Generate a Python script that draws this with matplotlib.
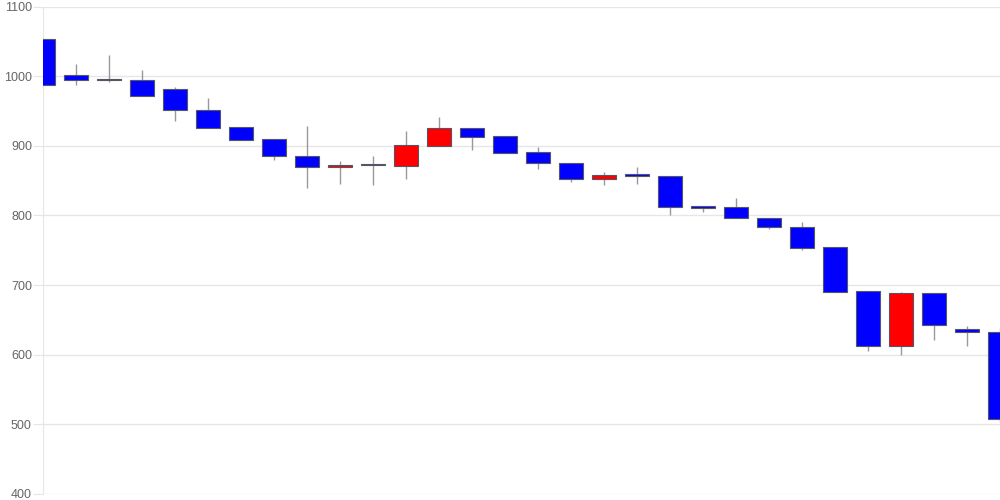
import numpy as np
import matplotlib.pyplot as plt
from matplotlib import rcParams
from matplotlib.patches import Rectangle

rcParams['font.family'] = 'sans-serif'
rcParams['font.sans-serif'] = ['Liberation Sans']
rcParams['font.size'] = 9

# candle values (open, close, high, low)
opens = [1053, 1002, 996, 994, 981, 951, 927, 910, 885, 869,
         873, 871, 900, 926, 914, 891, 876, 852, 859, 857,
         813, 812, 797, 784, 754, 691, 613, 688, 637, 632]
closes = [988, 995, 994, 971, 951, 926, 909, 885, 869, 873,
          872, 901, 925, 913, 890, 876, 852, 858, 857, 812,
          811, 796, 783, 753, 690, 613, 688, 643, 632, 507]
highs = [1053, 1018, 1031, 1009, 984, 968, 927, 910, 929, 878,
         885, 921, 941, 926, 914, 898, 876, 863, 869, 857,
         813, 825, 797, 790, 754, 691, 690, 688, 641, 638]
lows = [988, 988, 992, 971, 936, 926, 908, 880, 840, 845,
        843, 852, 900, 894, 890, 867, 848, 843, 845, 800,
        805, 796, 780, 751, 690, 605, 600, 621, 612, 503]
y_ticks = [400, 500, 600, 700, 800, 900, 1000, 1100]

fig = plt.figure(figsize=(10, 5), dpi=100)
ax = fig.add_axes([0.043, 0.012, 0.957, 0.975])

width = 0.72
for i, (o, c, h, l) in enumerate(zip(opens, closes, highs, lows)):
    ax.vlines(i, l, h, color='#999999', linewidth=1, zorder=2)
    col = 'red' if c > o else 'blue'
    lo = min(o, c)
    ht = max(abs(c - o), 1.5)
    ax.add_patch(Rectangle((i - width / 2, lo), width, ht, facecolor=col,
                           edgecolor='#555566', linewidth=0.8, zorder=3))

ax.set_xlim(0, len(opens) - 1)
ax.set_ylim(400, 1100)
ax.set_yticks(y_ticks)
ax.set_xticks([])
ax.grid(axis='y', color='#e6e6e6', linewidth=1)
ax.set_axisbelow(True)
for s in ['top', 'right', 'bottom']:
    ax.spines[s].set_visible(False)
ax.spines['left'].set_color('#e6e6e6')
ax.tick_params(axis='y', length=7, color='#e6e6e6', labelcolor='#666666',
               labelsize=9, pad=1)

plt.savefig('out.png', dpi=100)
